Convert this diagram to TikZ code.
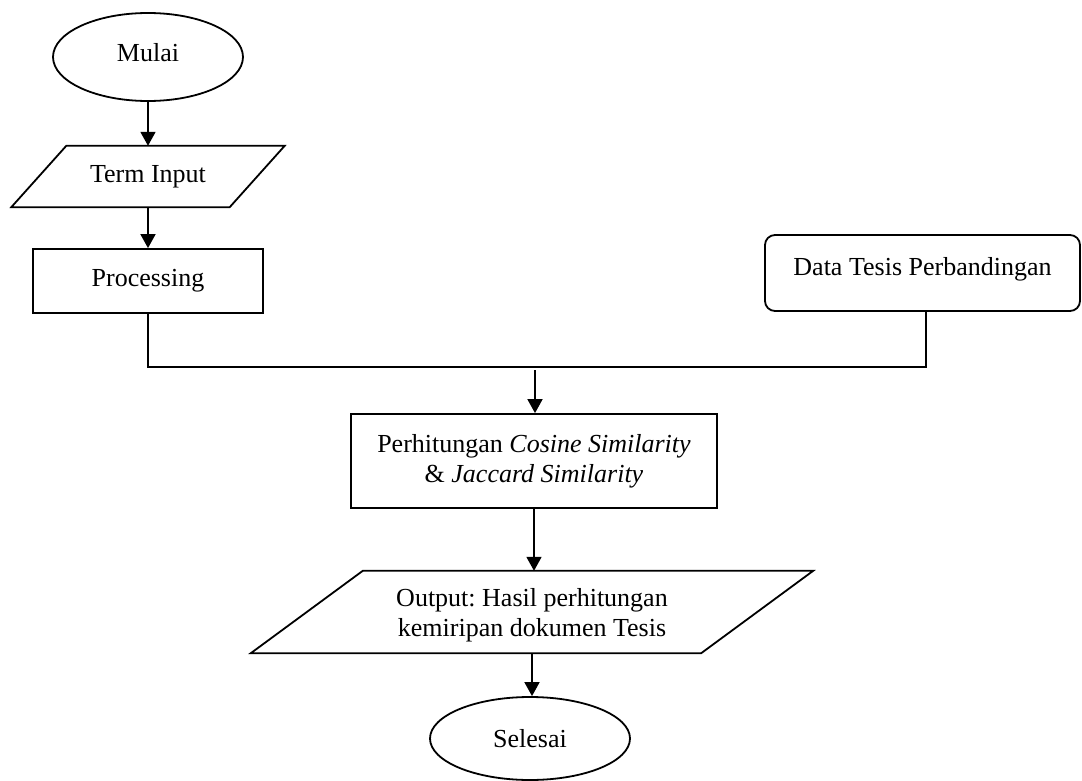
\documentclass[tikz,border=0pt]{standalone}
\usepackage{fontspec}
\setmainfont{Liberation Serif}
\usetikzlibrary{shapes.geometric,arrows.meta}
\frenchspacing
\begin{document}
\begin{tikzpicture}[x=1pt,y=-1pt,
  every node/.style={font=\fontsize{26}{30}\selectfont},
  ln/.style={line width=1.8pt},
  arr/.style={ln,-{Triangle[length=14pt,width=15pt]}},
  terminal/.style={ellipse,draw,ln,inner sep=0pt},
  procbox/.style={rectangle,draw,ln,inner sep=0pt,align=center},
  iobox/.style={rectangle,inner sep=0pt,align=center},
]
\useasboundingbox (0,0) rectangle (1082,781);

\node[terminal, minimum width=190pt, minimum height=88pt, text depth=9pt] (start) at (148,57) {Mulai};

\node[iobox, minimum width=218pt, minimum height=61pt] (input) at (148,176.5) {Term Input};
\draw[ln] ([xshift=27.5pt]input.north west) -- ([xshift=27.5pt]input.north east)
  -- ([xshift=-27.5pt]input.south east) -- ([xshift=-27.5pt]input.south west) -- cycle;

\node[procbox, minimum width=230pt, minimum height=64pt] (proc) at (148,281) {Processing};

\node[procbox, rounded corners=10pt, minimum width=315pt, minimum height=76pt, text depth=14pt] (data) at (922.5,273) {Data Tesis Perbandingan};

\node[procbox, minimum width=366pt, minimum height=94pt] (calc) at (534,461)
  {Perhitungan \textit{Cosine Similarity}\\\& \textit{Jaccard Similarity}};

\node[iobox, minimum width=450pt, minimum height=82pt] (out) at (532,612)
  {\rule{0pt}{24pt}Output: Hasil perhitungan\\kemiripan dokumen Tesis};
\draw[ln] ([xshift=56pt]out.north west) -- ([xshift=56pt]out.north east)
  -- ([xshift=-56pt]out.south east) -- ([xshift=-56pt]out.south west) -- cycle;

\node[terminal, minimum width=200pt, minimum height=83pt] (stop) at (530,738.5) {Selesai};

\coordinate (bus) at (535,367);
\coordinate (busin) at (535,370);

\draw[arr] (start.south) -- (start.south |- input.north);
\draw[arr] (input.south) -- (proc.north);
\draw[ln] (proc.south) |- (bus) -| ([xshift=3.5pt]data.south);
\draw[arr] (busin) -- (busin |- calc.north);
\draw[arr] (calc.south) -- (calc.south |- out.north);
\draw[arr] (out.south) -- (out.south |- stop.north);
\end{tikzpicture}
\end{document}
